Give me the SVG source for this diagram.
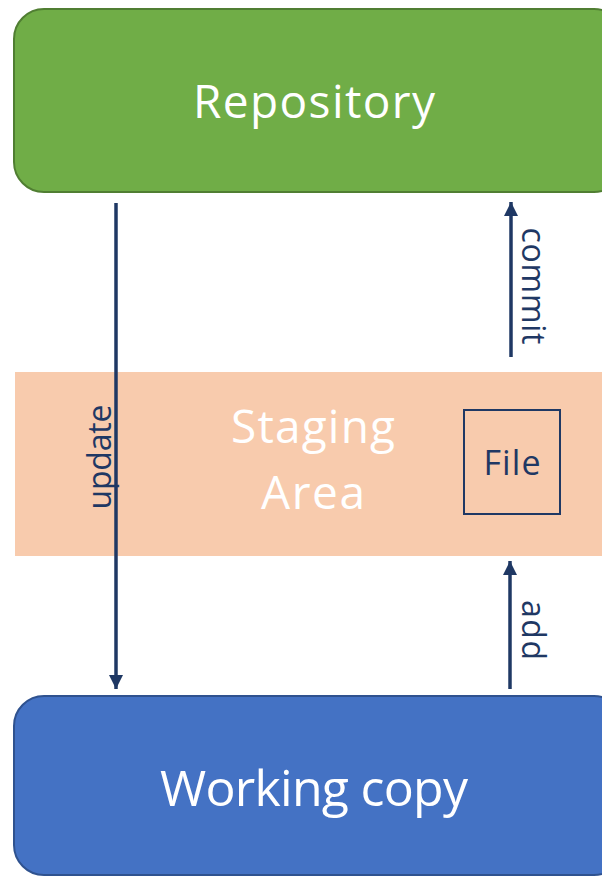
<svg xmlns="http://www.w3.org/2000/svg" width="602" height="877" viewBox="0 0 602 877">
<style>
.lbl{font-family:"Open Sans","Liberation Sans",sans-serif;fill:#fff;text-anchor:middle}
.arr{stroke:#1F3864;stroke-width:3.5;fill:none}
.tag{font-family:"Open Sans","Liberation Sans",sans-serif;fill:#1F3864;font-size:32px;text-anchor:middle}
</style>
<defs>
<marker id="ah" viewBox="0 0 10 10" refX="10" refY="5" markerWidth="4" markerHeight="4" orient="auto" markerUnits="strokeWidth">
<path d="M0,0 L10,5 L0,10 Z" fill="#1F3864"/>
</marker>
</defs>
<rect width="602" height="877" fill="#fff"/>
<g id="repository">
<rect x="14" y="9" width="610" height="183" rx="30" fill="#70AD47" stroke="#507E32" stroke-width="2"/>
<text class="lbl" x="314" y="118" font-size="46" textLength="242">Repository</text>
</g>
<g id="staging">
<rect x="15" y="372" width="600" height="184" fill="#F8CBAD"/>
<text class="lbl" x="313" y="443" font-size="46" textLength="164">Staging</text>
<text class="lbl" x="313" y="509" font-size="46" textLength="104">Area</text>
</g>
<g id="file">
<rect x="464" y="410" width="96" height="104" fill="none" stroke="#1F3864" stroke-width="2"/>
<text x="512" y="475" font-family="Open Sans, Liberation Sans, sans-serif" font-size="34" fill="#1F3864" text-anchor="middle" textLength="57">File</text>
</g>
<g id="working">
<rect x="14" y="696" width="610" height="179" rx="30" fill="#4472C4" stroke="#2F528F" stroke-width="2"/>
<text class="lbl" x="314" y="806" font-size="50" textLength="308">Working copy</text>
</g>
<g id="connectors">
<line class="arr" x1="116" y1="203" x2="116" y2="689" marker-end="url(#ah)"/>
<line class="arr" x1="511" y1="357" x2="511" y2="202" marker-end="url(#ah)"/>
<line class="arr" x1="510" y1="689" x2="510" y2="561" marker-end="url(#ah)"/>
<text class="tag" transform="translate(111,457) rotate(-90)" textLength="105">update</text>
<text class="tag" transform="translate(522,286) rotate(90)" textLength="117">commit</text>
<text class="tag" transform="translate(522,630) rotate(90)" textLength="60">add</text>
</g>
</svg>
